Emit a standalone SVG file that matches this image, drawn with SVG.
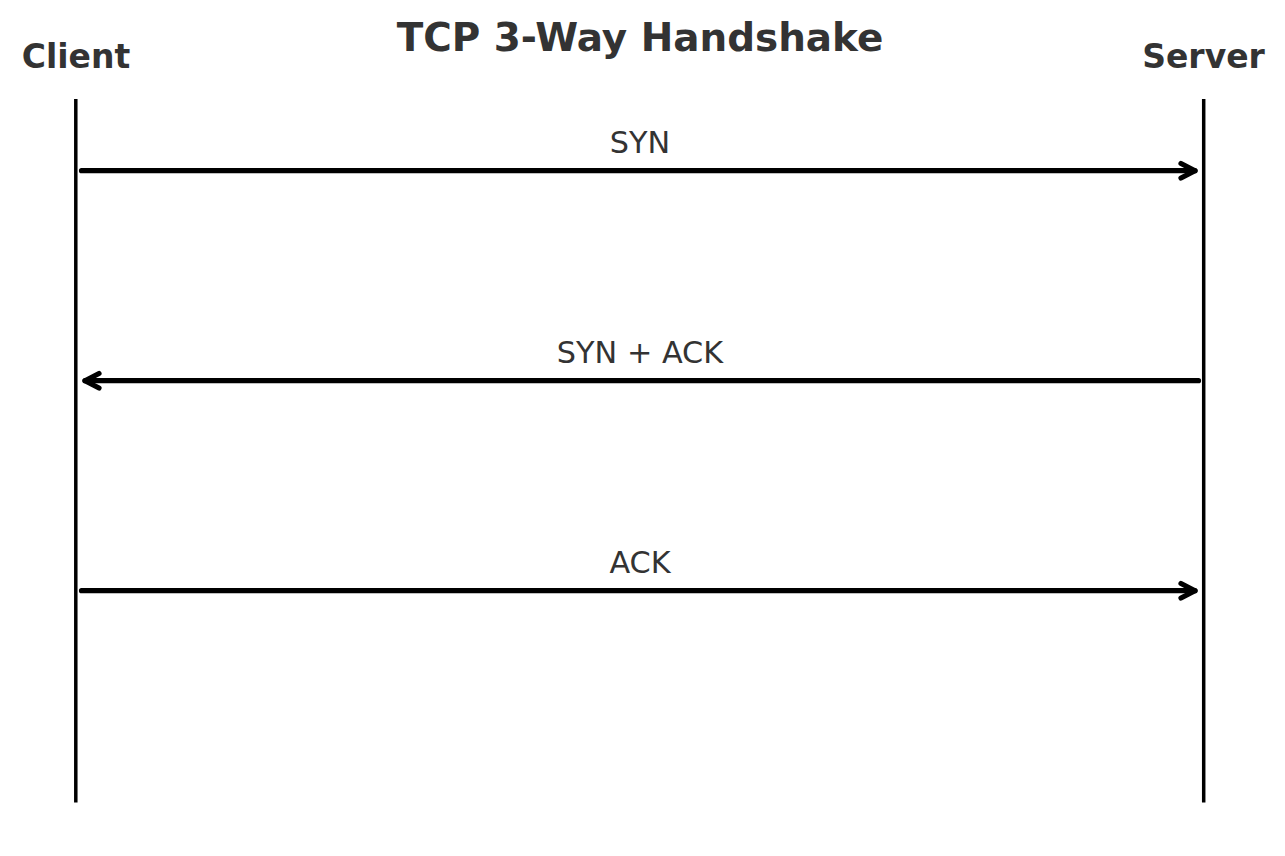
<svg xmlns="http://www.w3.org/2000/svg" width="1285" height="856" viewBox="0 0 1285 856">
<style>
.title{font-family:"DejaVu Sans",sans-serif;font-weight:bold;font-size:38.9px;fill:#333333}
.actor{font-family:"DejaVu Sans",sans-serif;font-weight:bold;font-size:33px;fill:#333333}
.msg{font-family:"DejaVu Sans",sans-serif;font-size:30.3px;fill:#333333}
.life{stroke:#000;stroke-width:3.5;fill:none}
.arrow{stroke:#000;stroke-width:5.2;stroke-linecap:round;stroke-linejoin:round;fill:none}
</style>
<rect width="1285" height="856" fill="#ffffff"/>
<text class="title" x="640" y="50.5" text-anchor="middle">TCP 3-Way Handshake</text>
<g id="client">
<text class="actor" x="76" y="68" text-anchor="middle">Client</text>
<line class="life" x1="75.8" y1="99" x2="75.8" y2="802.5"/>
</g>
<g id="server">
<text class="actor" x="1203.5" y="68" text-anchor="middle">Server</text>
<line class="life" x1="1203.7" y1="99" x2="1203.7" y2="802.5"/>
</g>
<g id="connectors">
<g id="syn">
<text class="msg" x="640" y="153" text-anchor="middle">SYN</text>
<line class="arrow" x1="81.5" y1="170.7" x2="1195" y2="170.7"/>
<polyline class="arrow" points="1181,163.5 1195,170.7 1181,178"/>
</g>
<g id="synack">
<text class="msg" x="640" y="363" text-anchor="middle">SYN + ACK</text>
<line class="arrow" x1="1198.5" y1="380.7" x2="85" y2="380.7"/>
<polyline class="arrow" points="99,373.5 85,380.7 99,388"/>
</g>
<g id="ack">
<text class="msg" x="640" y="573" text-anchor="middle">ACK</text>
<line class="arrow" x1="81.5" y1="590.7" x2="1195" y2="590.7"/>
<polyline class="arrow" points="1181,583.5 1195,590.7 1181,598"/>
</g>
</g>
</svg>
